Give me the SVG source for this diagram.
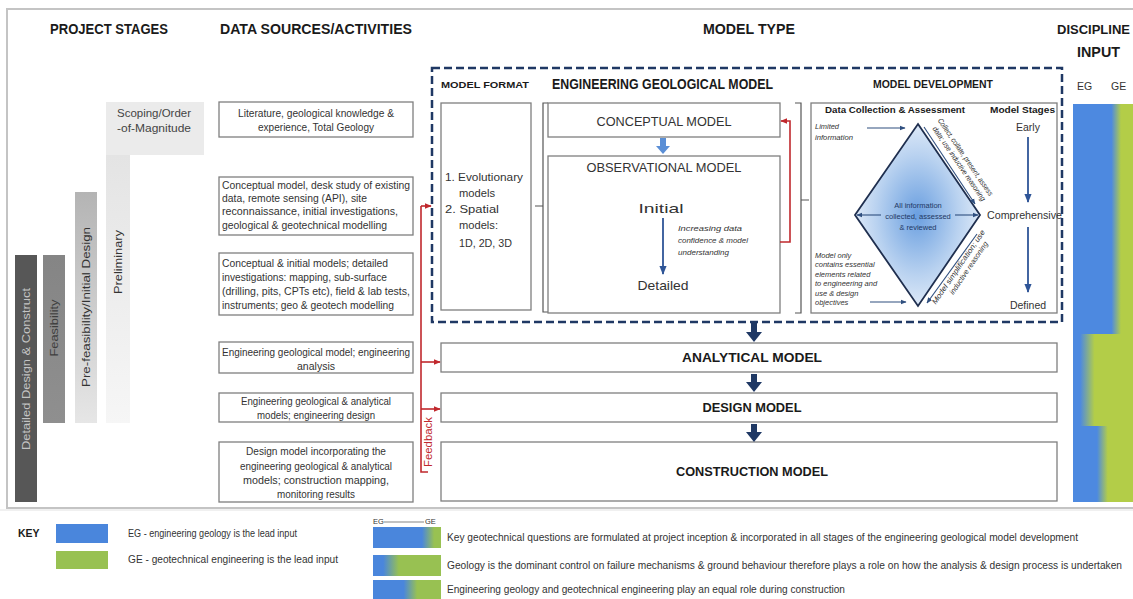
<svg xmlns="http://www.w3.org/2000/svg" width="1133" height="599" viewBox="0 0 1133 599">
<defs>
<style>
text{font-family:"Liberation Sans",Arial,sans-serif;fill:#2b2b2b}
.hd{font-weight:bold;font-size:14px;fill:#1a1a1a}
.box{fill:#fff;stroke:#7f7f7f;stroke-width:1.3}
.ds{font-size:10px;fill:#333}
.mt{font-size:13px;fill:#333}
.bm{font-size:12px;font-weight:bold;fill:#1a1a1a}
.it{font-style:italic;font-size:7.5px;fill:#333}
.dv{font-size:7.5px;fill:#1f3864}
.sm{font-size:10.5px;fill:#333}
.key{font-size:10px;fill:#333}
.red{stroke:#c0282d;stroke-width:1.6;fill:none}
.nv{stroke:#2f4f7f;stroke-width:1.1;fill:none}
.st{stroke:#2e5597;stroke-width:1.8;fill:none}
</style>
<marker id="redA" viewBox="0 0 10 10" refX="9" refY="5" markerWidth="7" markerHeight="7" markerUnits="userSpaceOnUse" orient="auto"><path d="M0,1 L10,5 L0,9 z" fill="#c0282d"/></marker>
<marker id="nvA" viewBox="0 0 10 10" refX="9" refY="5" markerWidth="6" markerHeight="6" markerUnits="userSpaceOnUse" orient="auto"><path d="M0,1 L10,5 L0,9 z" fill="#2f4f7f"/></marker>
<marker id="stA" viewBox="0 0 10 10" refX="9" refY="5" markerWidth="9" markerHeight="9" markerUnits="userSpaceOnUse" orient="auto"><path d="M0,1 L10,5 L0,9 z" fill="#2e5597"/></marker>
<linearGradient id="gPre" x1="0" y1="0" x2="0" y2="1"><stop offset="0" stop-color="#b4b4b4"/><stop offset="1" stop-color="#e6e6e6"/></linearGradient>
<linearGradient id="gPrel" x1="0" y1="0" x2="0" y2="1"><stop offset="0" stop-color="#e4e4e4"/><stop offset="1" stop-color="#f6f6f6"/></linearGradient>
<linearGradient id="gFeas" x1="0" y1="0" x2="0" y2="1"><stop offset="0" stop-color="#858585"/><stop offset="1" stop-color="#8f8f8f"/></linearGradient>
<radialGradient id="gDia" cx="0.5" cy="0.5" r="0.6"><stop offset="0" stop-color="#6a9fe0"/><stop offset="0.55" stop-color="#b9d2f0"/><stop offset="1" stop-color="#f2f6fc"/></radialGradient>
<linearGradient id="gS1" x1="0" y1="0" x2="1" y2="0"><stop offset="0" stop-color="#4d89e0"/><stop offset="0.64" stop-color="#4d89e0"/><stop offset="0.8" stop-color="#b3cd48"/><stop offset="1" stop-color="#b3cd48"/></linearGradient>
<linearGradient id="gS2" x1="0" y1="0" x2="1" y2="0"><stop offset="0" stop-color="#4d89e0"/><stop offset="0.12" stop-color="#4d89e0"/><stop offset="0.36" stop-color="#b3cd48"/><stop offset="1" stop-color="#b3cd48"/></linearGradient>
<linearGradient id="gS3" x1="0" y1="0" x2="1" y2="0"><stop offset="0" stop-color="#4d89e0"/><stop offset="0.4" stop-color="#4d89e0"/><stop offset="0.58" stop-color="#b3cd48"/><stop offset="1" stop-color="#b3cd48"/></linearGradient>
<linearGradient id="gK1" x1="0" y1="0" x2="1" y2="0"><stop offset="0" stop-color="#4a86dc"/><stop offset="0.72" stop-color="#4a86dc"/><stop offset="0.9" stop-color="#98c152"/><stop offset="1" stop-color="#98c152"/></linearGradient>
<linearGradient id="gK2" x1="0" y1="0" x2="1" y2="0"><stop offset="0" stop-color="#4a86dc"/><stop offset="0.15" stop-color="#4a86dc"/><stop offset="0.38" stop-color="#98c152"/><stop offset="1" stop-color="#98c152"/></linearGradient>
<linearGradient id="gK3" x1="0" y1="0" x2="1" y2="0"><stop offset="0" stop-color="#4a86dc"/><stop offset="0.45" stop-color="#4a86dc"/><stop offset="0.65" stop-color="#98c152"/><stop offset="1" stop-color="#98c152"/></linearGradient>
</defs>
<rect x="0" y="0" width="1133" height="599" fill="#fff"/>
<path d="M1133,9 H7 V508 H1133" fill="none" stroke="#c4c4c4" stroke-width="2"/>

<g id="headers">
<text class="hd" x="50" y="34" textLength="118" lengthAdjust="spacingAndGlyphs">PROJECT STAGES</text>
<text class="hd" x="220" y="34" textLength="192" lengthAdjust="spacingAndGlyphs">DATA SOURCES/ACTIVITIES</text>
<text class="hd" x="703" y="34" textLength="92" lengthAdjust="spacingAndGlyphs">MODEL TYPE</text>
<text x="1057" y="34" font-size="13" font-weight="bold" style="fill:#1a1a1a">DISCIPLINE</text>
<text class="hd" x="1077" y="57" textLength="43" lengthAdjust="spacingAndGlyphs">INPUT</text>
</g>

<g id="project-stages">
<g id="stage-detailed">
<rect x="15" y="255" width="22" height="247" fill="#575757"/>
<text transform="translate(30,369) rotate(-90)" text-anchor="middle" font-size="11" style="fill:#c4c4c4" textLength="162" lengthAdjust="spacingAndGlyphs">Detailed Design &amp; Construct</text>
</g>
<g id="stage-feasibility">
<rect x="43" y="255" width="22" height="168" fill="url(#gFeas)"/>
<text transform="translate(58,328) rotate(-90)" text-anchor="middle" font-size="11" style="fill:#3e3e3e" textLength="57" lengthAdjust="spacingAndGlyphs">Feasibility</text>
</g>
<g id="stage-prefeasibility">
<rect x="75" y="192" width="22" height="231" fill="url(#gPre)"/>
<text transform="translate(90,307) rotate(-90)" text-anchor="middle" font-size="11" style="fill:#333" textLength="160" lengthAdjust="spacingAndGlyphs">Pre-feasibility/Initial Design</text>
</g>
<g id="stage-preliminary">
<rect x="106" y="155" width="24" height="268" fill="url(#gPrel)"/>
<text transform="translate(122,262) rotate(-90)" text-anchor="middle" font-size="11" style="fill:#333" textLength="64" lengthAdjust="spacingAndGlyphs">Preliminary</text>
</g>
<g id="stage-scoping">
<rect x="106" y="102" width="98" height="53" fill="#ebebeb"/>
<text x="117" y="117" font-size="11" style="fill:#444" textLength="74" lengthAdjust="spacingAndGlyphs">Scoping/Order</text>
<text x="117" y="132" font-size="11" style="fill:#444" textLength="74" lengthAdjust="spacingAndGlyphs">-of-Magnitude</text>
</g>
</g>

<g id="data-sources">
<g id="ds-1">
<rect class="box" x="219" y="102" width="194" height="35"/>
<text class="ds" x="316" y="117" text-anchor="middle" textLength="156" lengthAdjust="spacingAndGlyphs">Literature, geological knowledge &amp;</text>
<text class="ds" x="316" y="131" text-anchor="middle" textLength="116" lengthAdjust="spacingAndGlyphs">experience, Total Geology</text>
</g>
<g id="ds-2">
<rect class="box" x="219" y="177" width="194" height="58"/>
<text class="ds" x="222" y="189" textLength="188" lengthAdjust="spacingAndGlyphs">Conceptual model, desk study of existing</text>
<text class="ds" x="222" y="202" textLength="145" lengthAdjust="spacingAndGlyphs">data, remote sensing (API), site</text>
<text class="ds" x="222" y="215" textLength="176" lengthAdjust="spacingAndGlyphs">reconnaissance, initial investigations,</text>
<text class="ds" x="222" y="229" textLength="165" lengthAdjust="spacingAndGlyphs">geological &amp; geotechnical modelling</text>
</g>
<g id="ds-3">
<rect class="box" x="219" y="253" width="194" height="62"/>
<text class="ds" x="222" y="267" textLength="166" lengthAdjust="spacingAndGlyphs">Conceptual &amp; initial models; detailed</text>
<text class="ds" x="222" y="281" textLength="165" lengthAdjust="spacingAndGlyphs">investigations: mapping, sub-surface</text>
<text class="ds" x="222" y="295" textLength="188" lengthAdjust="spacingAndGlyphs">(drilling, pits, CPTs etc), field &amp; lab tests,</text>
<text class="ds" x="222" y="309" textLength="172" lengthAdjust="spacingAndGlyphs">instruments; geo &amp; geotech modelling</text>
</g>
<g id="ds-4">
<rect class="box" x="219" y="342" width="194" height="31"/>
<text class="ds" x="316" y="356" text-anchor="middle" textLength="188" lengthAdjust="spacingAndGlyphs">Engineering geological model; engineering</text>
<text class="ds" x="316" y="370" text-anchor="middle" textLength="38" lengthAdjust="spacingAndGlyphs">analysis</text>
</g>
<g id="ds-5">
<rect class="box" x="219" y="393" width="194" height="29"/>
<text class="ds" x="316" y="405" text-anchor="middle" textLength="150" lengthAdjust="spacingAndGlyphs">Engineering geological &amp; analytical</text>
<text class="ds" x="316" y="419" text-anchor="middle" textLength="118" lengthAdjust="spacingAndGlyphs">models; engineering design</text>
</g>
<g id="ds-6">
<rect class="box" x="219" y="442" width="194" height="60"/>
<text class="ds" x="316" y="455" text-anchor="middle" textLength="140" lengthAdjust="spacingAndGlyphs">Design model incorporating the</text>
<text class="ds" x="316" y="470" text-anchor="middle" textLength="152" lengthAdjust="spacingAndGlyphs">engineering geological &amp; analytical</text>
<text class="ds" x="316" y="484" text-anchor="middle" textLength="146" lengthAdjust="spacingAndGlyphs">models; construction mapping,</text>
<text class="ds" x="316" y="498" text-anchor="middle" textLength="78" lengthAdjust="spacingAndGlyphs">monitoring results</text>
</g>
</g>

<g id="engineering-geological-model">
<rect x="432" y="68" width="630" height="254" fill="none" stroke="#1f3864" stroke-width="2.5" stroke-dasharray="8 4"/>
<text x="441" y="88" font-size="9.5" font-weight="bold" style="fill:#1a1a1a" textLength="88" lengthAdjust="spacingAndGlyphs">MODEL FORMAT</text>
<text x="552" y="89" font-size="14" font-weight="bold" style="fill:#1a1a1a" textLength="221" lengthAdjust="spacingAndGlyphs">ENGINEERING GEOLOGICAL MODEL</text>
<text x="873" y="88" font-size="10.5" font-weight="bold" style="fill:#1a1a1a" textLength="120" lengthAdjust="spacingAndGlyphs">MODEL DEVELOPMENT</text>
<path d="M548,103 H543 V312 H548 M535,206 H543" fill="none" stroke="#555" stroke-width="1.2"/>
<path d="M795,103 H801 V313 H795 M801,200 H809" fill="none" stroke="#555" stroke-width="1.2"/>
</g>

<g id="model-format">
<rect class="box" x="441" y="103" width="90" height="207"/>
<text class="sm" x="445" y="181" textLength="78" lengthAdjust="spacingAndGlyphs">1. Evolutionary</text>
<text class="sm" x="459" y="197" textLength="36" lengthAdjust="spacingAndGlyphs">models</text>
<text class="sm" x="445" y="213" textLength="54" lengthAdjust="spacingAndGlyphs">2. Spatial</text>
<text class="sm" x="459" y="229" textLength="39" lengthAdjust="spacingAndGlyphs">models:</text>
<text class="sm" x="459" y="247" textLength="53" lengthAdjust="spacingAndGlyphs">1D, 2D, 3D</text>
</g>

<g id="conceptual-model">
<rect class="box" x="548" y="103" width="232" height="34"/>
<text class="mt" x="664" y="126" text-anchor="middle" textLength="135" lengthAdjust="spacingAndGlyphs">CONCEPTUAL MODEL</text>
</g>

<g id="observational-model">
<rect class="box" x="548" y="156" width="232" height="157"/>
<text class="mt" x="664" y="172" text-anchor="middle" textLength="155" lengthAdjust="spacingAndGlyphs">OBSERVATIONAL MODEL</text>
<text class="mt" x="661" y="213" text-anchor="middle" textLength="45" lengthAdjust="spacingAndGlyphs">Initial</text>
<text class="mt" x="663" y="290" text-anchor="middle" textLength="51" lengthAdjust="spacingAndGlyphs">Detailed</text>
<text class="it" x="678" y="231" font-size="8" textLength="64" lengthAdjust="spacingAndGlyphs">Increasing data</text>
<text class="it" x="678" y="243" font-size="8" textLength="70" lengthAdjust="spacingAndGlyphs">confidence &amp; model</text>
<text class="it" x="678" y="255" font-size="8" textLength="51" lengthAdjust="spacingAndGlyphs">understanding</text>
<path d="M663,218 V274" stroke="#2e5597" stroke-width="1.8" marker-end="url(#stA)"/>
</g>

<g id="model-development">
<rect class="box" x="811" y="103" width="246" height="210"/>
<text x="825" y="113" font-size="9" font-weight="bold" style="fill:#1a1a1a" textLength="140" lengthAdjust="spacingAndGlyphs">Data Collection &amp; Assessment</text>
<text x="990" y="113" font-size="9" font-weight="bold" style="fill:#1a1a1a" textLength="65" lengthAdjust="spacingAndGlyphs">Model Stages</text>
<text class="it" x="815" y="129" textLength="24" lengthAdjust="spacingAndGlyphs">Limited</text>
<text class="it" x="815" y="140" textLength="38" lengthAdjust="spacingAndGlyphs">information</text>
<text class="it" x="815" y="258">Model only</text>
<text class="it" x="815" y="267">contains essential</text>
<text class="it" x="815" y="277">elements related</text>
<text class="it" x="815" y="286">to engineering and</text>
<text class="it" x="815" y="296">use &amp; design</text>
<text class="it" x="815" y="305">objectives</text>
<polygon points="918,124 980,215 918,306 855,215" fill="url(#gDia)" stroke="#1f2f4f" stroke-width="1.8"/>
<text class="dv" x="918" y="208" text-anchor="middle">All information</text>
<text class="dv" x="918" y="219" text-anchor="middle">collected, assessed</text>
<text class="dv" x="918" y="230" text-anchor="middle">&amp; reviewed</text>
<g transform="translate(918,124) rotate(55.7)">
<text class="it" x="54" y="-18" text-anchor="middle" style="font-size:7.5px" textLength="92" lengthAdjust="spacingAndGlyphs">Collect, collate, present, assess</text>
<text class="it" x="56" y="-9" text-anchor="middle" style="font-size:7.5px" textLength="88" lengthAdjust="spacingAndGlyphs">data; use inductive reasoning</text>
</g>
<g transform="translate(918,306) rotate(-55.7)">
<text class="it" x="55" y="14" text-anchor="middle" style="font-size:7.5px" textLength="88" lengthAdjust="spacingAndGlyphs">Model simplification; use</text>
<text class="it" x="60" y="23" text-anchor="middle" style="font-size:7.5px" textLength="62" lengthAdjust="spacingAndGlyphs">inductive reasoning</text>
</g>
<text x="1028" y="131" text-anchor="middle" font-size="10.5" style="fill:#333">Early</text>
<text x="987" y="219" font-size="10.5" style="fill:#333" textLength="75" lengthAdjust="spacingAndGlyphs">Comprehensive</text>
<text x="1028" y="309" text-anchor="middle" font-size="10.5" style="fill:#333">Defined</text>
</g>

<g id="analytical-model">
<rect class="box" x="441" y="343" width="616" height="29"/>
<text class="bm" x="752" y="362" text-anchor="middle" textLength="140" lengthAdjust="spacingAndGlyphs">ANALYTICAL MODEL</text>
</g>
<g id="design-model">
<rect class="box" x="441" y="393" width="616" height="29"/>
<text class="bm" x="752" y="412" text-anchor="middle" textLength="99" lengthAdjust="spacingAndGlyphs">DESIGN MODEL</text>
</g>
<g id="construction-model">
<rect class="box" x="441" y="442" width="616" height="59"/>
<text class="bm" x="752" y="476" text-anchor="middle" textLength="152" lengthAdjust="spacingAndGlyphs">CONSTRUCTION MODEL</text>
</g>

<g id="discipline-input">
<text x="1077" y="90" font-size="10.5" style="fill:#333">EG</text>
<text x="1111" y="90" font-size="10.5" style="fill:#333">GE</text>
<rect x="1073" y="104" width="60" height="230" fill="url(#gS1)"/>
<rect x="1073" y="334" width="60" height="92" fill="url(#gS2)"/>
<rect x="1073" y="426" width="60" height="76" fill="url(#gS3)"/>
</g>

<g id="connectors">
<path class="red" d="M421,206 V472 H428"/>
<path class="red" d="M421,206 H431" marker-end="url(#redA)"/>
<path class="red" d="M421,362 H440" marker-end="url(#redA)"/>
<path class="red" d="M421,409 H440" marker-end="url(#redA)"/>
<text transform="translate(432,442) rotate(-90)" text-anchor="middle" font-size="10" style="fill:#c0282d" textLength="50" lengthAdjust="spacingAndGlyphs">Feedback</text>
<path class="red" d="M780,242 H790 V121 H781" marker-end="url(#redA)"/>
<path d="M660,138 h6 v8 h4 l-7,8 l-7,-8 h4 z" fill="#5b8fd6"/>
<path d="M751,323 h6 v9 h5 l-8,10 l-8,-10 h5 z" fill="#1f3864"/>
<path d="M751,374 h6 v8 h5 l-8,10 l-8,-10 h5 z" fill="#1f3864"/>
<path d="M751,424 h6 v8 h5 l-8,10 l-8,-10 h5 z" fill="#1f3864"/>
<path class="nv" d="M867,128 H905" marker-end="url(#nvA)"/>
<path class="nv" d="M870,302 H906" marker-end="url(#nvA)"/>
<path class="nv" d="M881,215 H857" marker-end="url(#nvA)"/>
<path class="nv" d="M955,215 H978" marker-end="url(#nvA)"/>
<path class="nv" d="M924,127 L975,204" marker-end="url(#nvA)"/>
<path class="nv" d="M977,234 L927,303" marker-end="url(#nvA)"/>
<path class="st" d="M1028,137 V202" marker-end="url(#stA)"/>
<path class="st" d="M1028,227 V292" marker-end="url(#stA)"/>
</g>

<g id="key">
<line x1="0" y1="510" x2="1133" y2="510" stroke="#e2e2e2" stroke-width="1"/>
<text x="18" y="537" font-size="10.5" font-weight="bold" style="fill:#1a1a1a">KEY</text>
<rect x="56" y="524" width="52" height="19" fill="#4a86dc"/>
<rect x="56" y="551" width="52" height="18" fill="#98c152"/>
<text class="key" x="128" y="537" textLength="169" lengthAdjust="spacingAndGlyphs">EG - engineering geology is the lead input</text>
<text class="key" x="128" y="563" textLength="210" lengthAdjust="spacingAndGlyphs">GE - geotechnical engineering is the lead input</text>
<text x="373" y="524" font-size="7.5" style="fill:#333">EG</text>
<text x="425" y="524" font-size="7.5" style="fill:#333">GE</text>
<line x1="384" y1="522" x2="424" y2="522" stroke="#333" stroke-width="0.6"/>
<rect x="373" y="527" width="68" height="21" fill="url(#gK1)"/>
<rect x="373" y="555" width="68" height="21" fill="url(#gK2)"/>
<rect x="373" y="580" width="68" height="19" fill="url(#gK3)"/>
<text class="key" x="447" y="541" textLength="631" lengthAdjust="spacingAndGlyphs">Key geotechnical questions are formulated at project inception &amp; incorporated in all stages of the engineering geological model development</text>
<text class="key" x="447" y="569" textLength="675" lengthAdjust="spacingAndGlyphs">Geology is the dominant control on failure mechanisms &amp; ground behaviour therefore plays a role on how the analysis &amp; design process is undertaken</text>
<text class="key" x="447" y="593" textLength="398" lengthAdjust="spacingAndGlyphs">Engineering geology and geotechnical engineering play an equal role during construction</text>
</g>
</svg>
